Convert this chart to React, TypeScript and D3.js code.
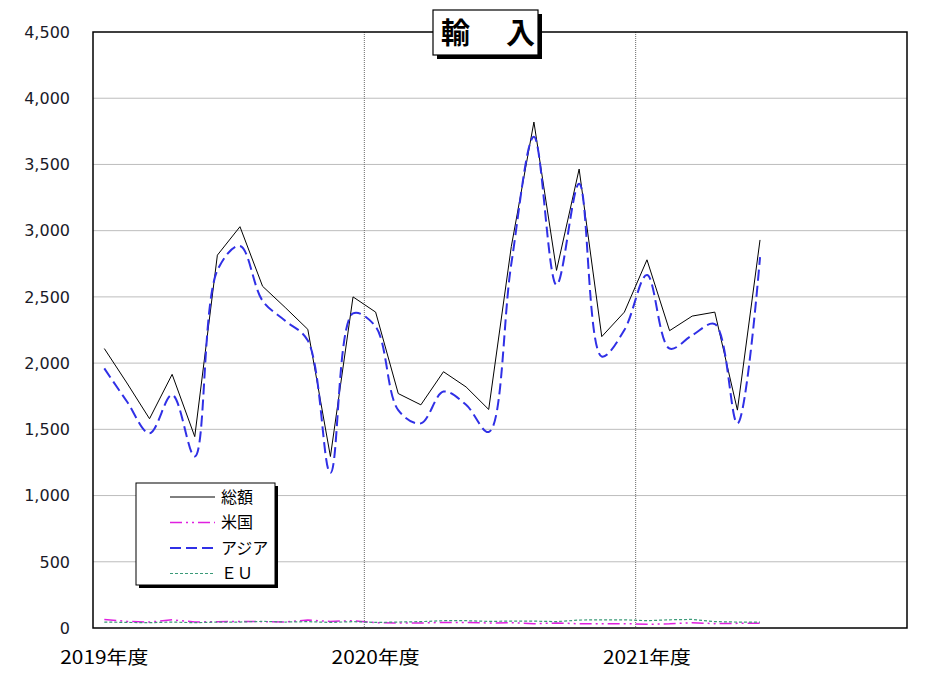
import React, { useRef, useEffect } from 'react';
import * as d3 from 'd3';

// monthly imports, Apr 2019 .. Sep 2021
const total = [2110, 1850, 1580, 1915, 1445, 2815, 3030, 2580, 2420, 2255, 1295, 2500, 2385, 1770, 1685, 1935, 1820, 1650, 2880, 3820, 2700, 3465, 2200, 2385, 2780, 2245, 2355, 2385, 1645, 2930];
const usa = [65, 50, 45, 62, 45, 48, 50, 48, 45, 60, 50, 55, 40, 38, 38, 42, 42, 38, 40, 32, 38, 32, 32, 33, 28, 32, 40, 33, 35, 35];
const asia = [1960, 1710, 1470, 1760, 1295, 2700, 2885, 2470, 2320, 2170, 1170, 2375, 2275, 1645, 1545, 1785, 1685, 1480, 2750, 3710, 2590, 3355, 2050, 2250, 2665, 2110, 2210, 2295, 1545, 2800];
const eu = [45, 42, 40, 45, 40, 45, 45, 50, 45, 48, 42, 48, 42, 45, 48, 55, 55, 50, 52, 52, 48, 60, 62, 62, 55, 62, 65, 48, 45, 45];

const yTicks = [0, 500, 1000, 1500, 2000, 2500, 3000, 3500, 4000, 4500];
const yearLabels = ['2019年度', '2020年度', '2021年度'];
const monthsShown = 36;

const series = [
  { name: '総額', data: total, color: '#000000', width: 1, dash: null, smooth: false },
  { name: '米国', data: usa, color: '#e020e0', width: 1.5, dash: '12 4 2 4 2 4', smooth: false },
  { name: 'アジア', data: asia, color: '#3030e6', width: 2, dash: '11 5', smooth: true },
  { name: 'ＥＵ', data: eu, color: '#3a9a78', width: 1.2, dash: '3 2', smooth: false }
];

export default function App() {
  const svgRef = useRef<SVGSVGElement>(null);

  useEffect(() => {
    if (!svgRef.current) return;
    const svg = d3.select(svgRef.current);
    svg.selectAll('*').remove();

    const left = 93, right = 907, top = 32, bottom = 628;
    const x = d3.scaleLinear().domain([0, monthsShown]).range([left, right]);
    const y = d3.scaleLinear().domain([0, 4500]).range([bottom, top]);

    // horizontal grid
    svg.append('g')
      .selectAll('line')
      .data(yTicks.filter(t => t > 0 && t < 4500))
      .join('line')
      .attr('x1', left).attr('x2', right)
      .attr('y1', d => y(d)).attr('y2', d => y(d))
      .style('stroke', '#bdbdbd')
      .style('stroke-width', 1);

    // year separators
    svg.append('g')
      .selectAll('line')
      .data([12, 24])
      .join('line')
      .attr('x1', d => x(d)).attr('x2', d => x(d))
      .attr('y1', top).attr('y2', bottom)
      .style('stroke', '#6a6a6a')
      .style('stroke-width', 1)
      .style('stroke-dasharray', '1 1');

    // y labels
    svg.append('g')
      .selectAll('text')
      .data(yTicks)
      .join('text')
      .attr('x', 70)
      .attr('y', d => y(d))
      .attr('dy', '0.36em')
      .attr('text-anchor', 'end')
      .style('font-family', '"DejaVu Sans", Verdana, sans-serif')
      .style('font-size', '16px')
      .style('fill', '#1a1a28')
      .text(d => d3.format(',')(d));

    // x labels
    svg.append('g')
      .selectAll('text')
      .data(yearLabels)
      .join('text')
      .attr('x', (d, i) => x(i * 12 + 0.5) - 44)
      .attr('y', 664)
      .attr('textLength', 88)
      .attr('lengthAdjust', 'spacingAndGlyphs')
      .style('font-family', '"Noto Sans CJK JP", sans-serif')
      .style('font-size', '18px')
      .style('fill', '#000')
      .text(d => d);

    // series
    series.forEach(s => {
      const line = d3.line<number>()
        .x((d, i) => x(i + 0.5))
        .y(d => y(d))
        .curve(s.smooth ? d3.curveCatmullRom.alpha(0.5) : d3.curveLinear);
      svg.append('path')
        .attr('d', line(s.data))
        .style('fill', 'none')
        .style('stroke', s.color)
        .style('stroke-width', s.width)
        .style('stroke-dasharray', s.dash || 'none');
    });

    // plot frame
    svg.append('rect')
      .attr('x', left).attr('y', top)
      .attr('width', right - left).attr('height', bottom - top)
      .style('fill', 'none')
      .style('stroke', '#000')
      .style('stroke-width', 1.5);

    // title box
    const tb = { x: 433, y: 10, w: 105, h: 45 };
    svg.append('rect')
      .attr('x', tb.x + 4).attr('y', tb.y + 4)
      .attr('width', tb.w).attr('height', tb.h)
      .style('fill', '#000');
    svg.append('rect')
      .attr('x', tb.x).attr('y', tb.y)
      .attr('width', tb.w).attr('height', tb.h)
      .style('fill', '#fff')
      .style('stroke', '#000')
      .style('stroke-width', 1.2);
    svg.append('text')
      .attr('x', 441)
      .attr('y', 44)
      .style('font-family', '"Noto Sans CJK JP", sans-serif')
      .style('font-size', '29px')
      .style('font-weight', 700)
      .style('letter-spacing', '3.5px')
      .style('fill', '#000')
      .text('輸　入');

    // legend
    const lg = { x: 136, y: 483, w: 139, h: 102 };
    svg.append('rect')
      .attr('x', lg.x + 3).attr('y', lg.y + 3)
      .attr('width', lg.w).attr('height', lg.h)
      .style('fill', '#000');
    svg.append('rect')
      .attr('x', lg.x).attr('y', lg.y)
      .attr('width', lg.w).attr('height', lg.h)
      .style('fill', '#fff')
      .style('stroke', '#000')
      .style('stroke-width', 1);
    const rows = svg.append('g')
      .selectAll('g')
      .data(series)
      .join('g')
      .attr('transform', (d, i) => `translate(0, ${497 + i * 25.5})`);
    rows.append('line')
      .attr('x1', 170).attr('x2', 215)
      .attr('y1', 0).attr('y2', 0)
      .style('stroke', d => d.color)
      .style('stroke-width', d => d.width)
      .style('stroke-dasharray', d => d.dash || 'none');
    rows.append('text')
      .attr('x', 221)
      .attr('y', 0)
      .attr('dy', '0.36em')
      .style('font-family', '"Noto Sans CJK JP", sans-serif')
      .style('font-size', '16px')
      .style('fill', '#000')
      .text(d => d.name);
  }, []);

  return (
    <svg
      ref={svgRef}
      width={950}
      height={679}
      style={{ position: 'absolute', left: 0, top: 0, background: '#fff' }}
    />
  );
}
